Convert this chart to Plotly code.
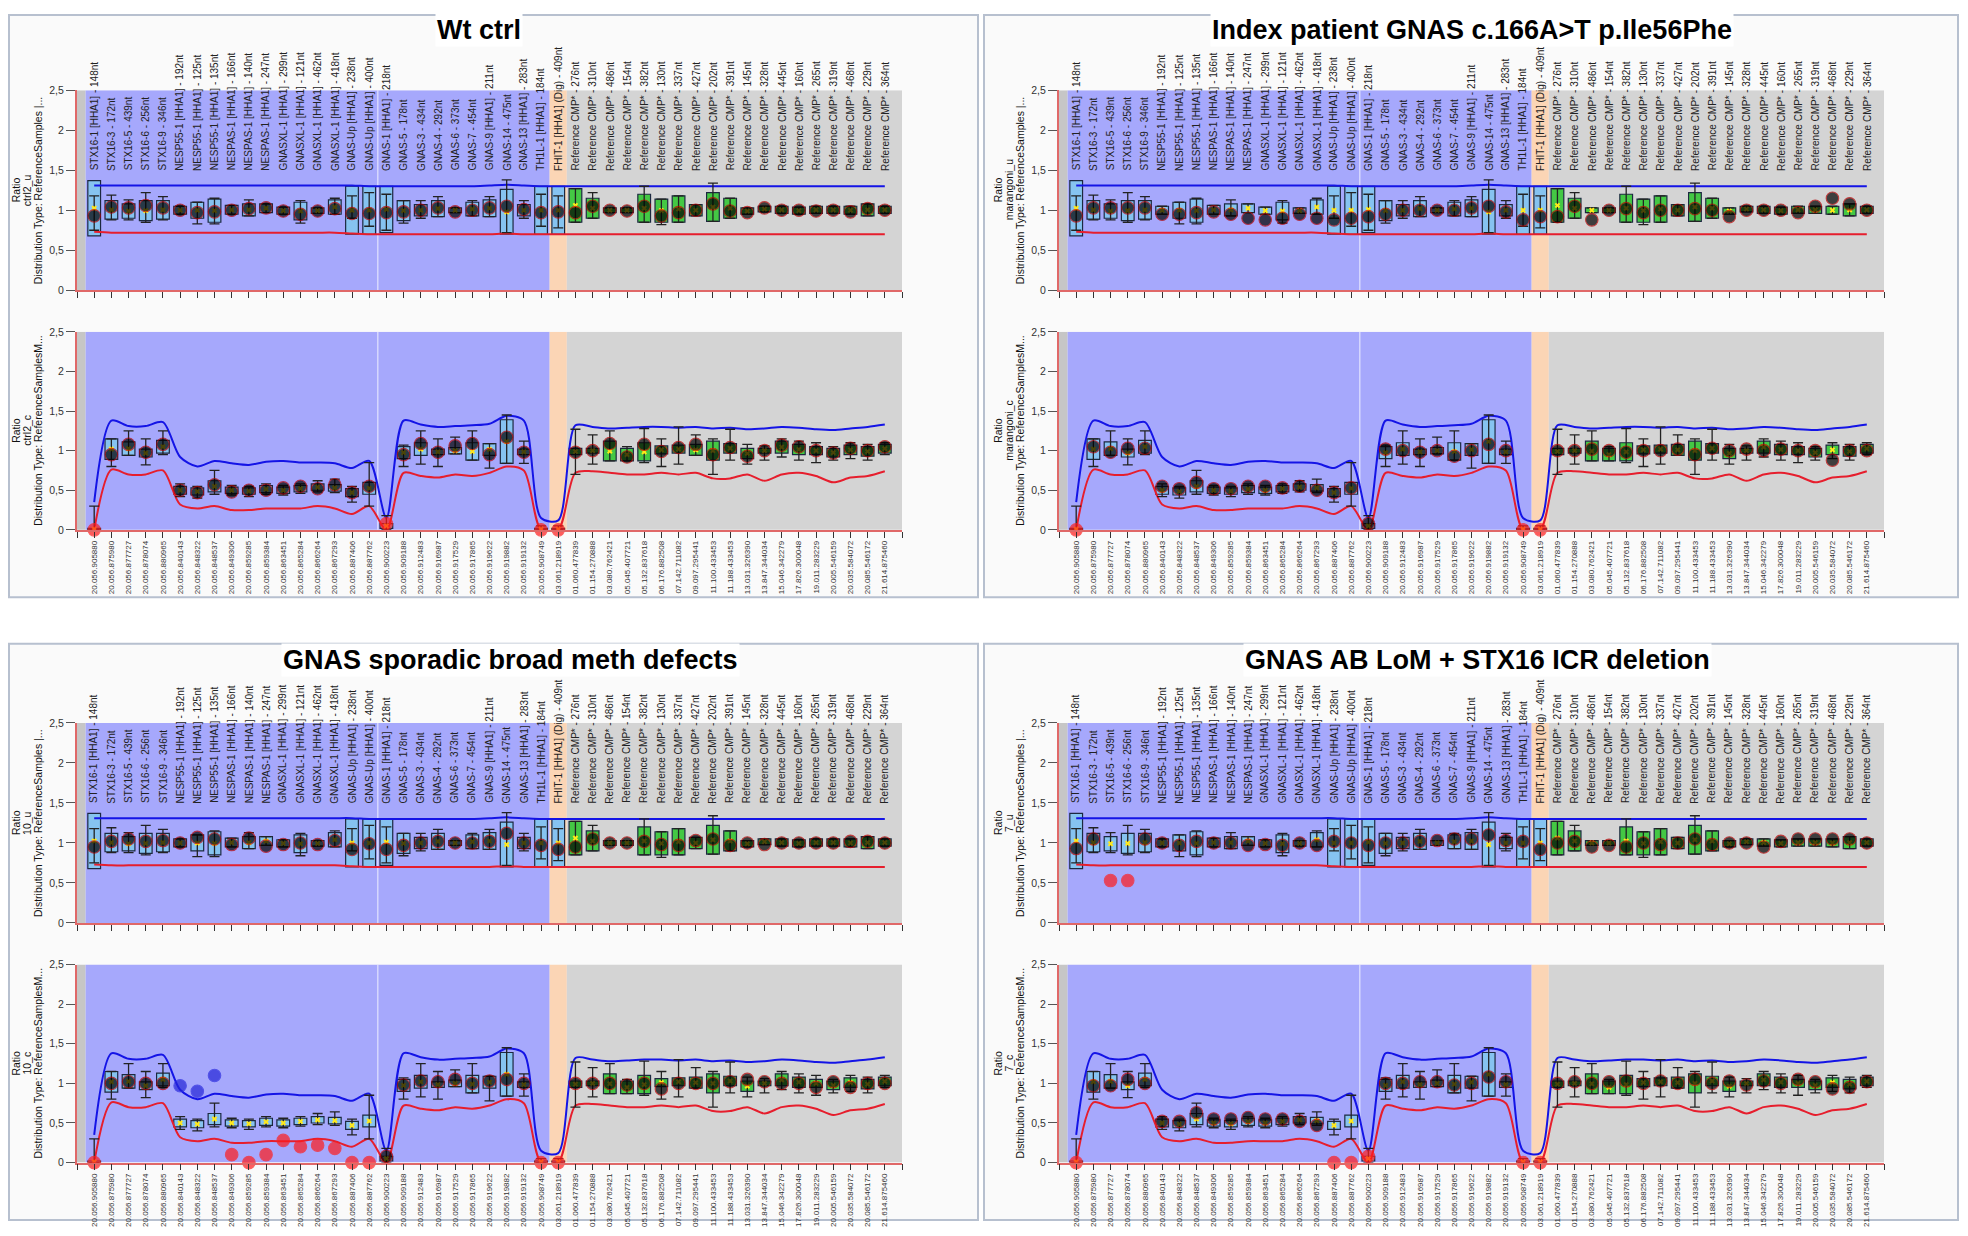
import plotly.graph_objects as go

# page size and the browser's default 8px body margin
PAGE_W, PAGE_H, OFF = 1968, 1236, 8
W, H = PAGE_W - 2 * OFF, PAGE_H - 2 * OFF

# ---------------- data ----------------
probes = [
    "STX16-1 [HHA1] - 148nt", "STX16-3 - 172nt", "STX16-5 - 439nt", "STX16-6 - 256nt", "STX16-9 - 346nt",
    "NESP55-1 [HHA1] - 192nt", "NESP55-1 [HHA1] - 125nt", "NESP55-1 [HHA1] - 135nt",
    "NESPAS-1 [HHA1] - 166nt", "NESPAS-1 [HHA1] - 140nt", "NESPAS-1 [HHA1] - 247nt",
    "GNASXL-1 [HHA1] - 299nt", "GNASXL-1 [HHA1] - 121nt", "GNASXL-1 [HHA1] - 462nt", "GNASXL-1 [HHA1] - 418nt",
    "GNAS-Up [HHA1] - 238nt", "GNAS-Up [HHA1] - 400nt", "GNAS-1 [HHA1] - 218nt",
    "GNAS-5 - 178nt", "GNAS-3 - 434nt", "GNAS-4 - 292nt", "GNAS-6 - 373nt", "GNAS-7 - 454nt",
    "GNAS-9 [HHA1] - 211nt", "GNAS-14 - 475nt", "GNAS-13 [HHA1] - 283nt", "TH1L-1 [HHA1] - 184nt",
    "FHIT-1 [HHA1] (Dig) - 409nt",
    "Reference CMP* - 276nt", "Reference CMP* - 310nt", "Reference CMP* - 486nt", "Reference CMP* - 154nt",
    "Reference CMP* - 382nt", "Reference CMP* - 130nt", "Reference CMP* - 337nt", "Reference CMP* - 427nt",
    "Reference CMP* - 202nt", "Reference CMP* - 391nt", "Reference CMP* - 145nt", "Reference CMP* - 328nt",
    "Reference CMP* - 445nt", "Reference CMP* - 160nt", "Reference CMP* - 265nt", "Reference CMP* - 319nt",
    "Reference CMP* - 468nt", "Reference CMP* - 229nt", "Reference CMP* - 364nt",
]
positions = [
    "20.056.905880", "20.056.875980", "20.056.877727", "20.056.878074", "20.056.880965",
    "20.056.840143", "20.056.848322", "20.056.848537", "20.056.849306", "20.056.859285",
    "20.056.859384", "20.056.863451", "20.056.865284", "20.056.866264", "20.056.867293",
    "20.056.887406", "20.056.887762", "20.056.900223", "20.056.909188", "20.056.912483",
    "20.056.916987", "20.056.917529", "20.056.917865", "20.056.919622", "20.056.919882",
    "20.056.919132", "20.056.908749", "03.061.218919",
    "01.060.477839", "01.154.270888", "03.080.762421", "05.045.407721", "05.132.837618",
    "06.176.882508", "07.142.711082", "09.097.295441", "11.100.433453", "11.188.433453",
    "13.031.326390", "13.847.344034", "15.046.342279", "17.826.300048", "19.011.283229",
    "20.005.546159", "20.035.584072", "20.085.546172", "21.614.875460",
]
panel_titles = ["Wt ctrl", "Index patient GNAS c.166A>T p.Ile56Phe",
                "GNAS sporadic broad meth defects", "GNAS AB LoM + STX16 ICR deletion"]
sample_names = ["ctrl2", "marangoni", "10", "7"]

# reference-sample thresholds (upper = blue, lower = red)
u_hi = [1.31, 1.31, 1.31, 1.31, 1.31, 1.31, 1.31, 1.31, 1.31, 1.31, 1.31, 1.31, 1.31, 1.31, 1.31, 1.31,
        1.30, 1.30, 1.30, 1.30, 1.30, 1.30, 1.30, 1.31, 1.32, 1.31, 1.30, 1.30, 1.30, 1.30, 1.30, 1.30,
        1.30, 1.30, 1.30, 1.30, 1.30, 1.30, 1.30, 1.30, 1.30, 1.30, 1.30, 1.30, 1.30, 1.30, 1.30]
u_lo = [0.73, 0.72, 0.72, 0.72, 0.72, 0.72, 0.72, 0.72, 0.72, 0.72, 0.72, 0.72, 0.72, 0.72, 0.72, 0.71,
        0.70, 0.70, 0.70, 0.70, 0.70, 0.70, 0.70, 0.70, 0.71, 0.70, 0.70, 0.70, 0.70, 0.70, 0.70, 0.70,
        0.70, 0.70, 0.70, 0.70, 0.70, 0.70, 0.70, 0.70, 0.70, 0.70, 0.70, 0.70, 0.70, 0.70, 0.70]
c_hi = [0.35, 1.38, 1.31, 1.31, 1.36, 0.92, 0.80, 0.87, 0.84, 0.82, 0.86, 0.87, 0.85, 0.85, 0.84, 0.78,
        0.87, 0.15, 1.38, 1.33, 1.30, 1.31, 1.32, 1.34, 1.44, 1.38, 0.15, 0.12, 1.32, 1.30, 1.28, 1.29,
        1.30, 1.30, 1.29, 1.30, 1.28, 1.29, 1.27, 1.28, 1.30, 1.29, 1.27, 1.26, 1.28, 1.30, 1.33]
c_lo = [0.00, 0.76, 0.70, 0.70, 0.75, 0.32, 0.27, 0.30, 0.25, 0.25, 0.27, 0.27, 0.27, 0.30, 0.27, 0.20,
        0.30, 0.00, 0.72, 0.68, 0.66, 0.70, 0.68, 0.72, 0.80, 0.75, 0.00, 0.00, 0.72, 0.74, 0.72, 0.70,
        0.70, 0.72, 0.70, 0.72, 0.65, 0.65, 0.70, 0.62, 0.70, 0.72, 0.68, 0.60, 0.66, 0.68, 0.74]

# reference-sample boxes (q1, q3) and whiskers
u_q1 = [0.68, 0.89, 0.90, 0.87, 0.89, 0.95, 0.90, 0.85, 0.95, 0.93, 0.97, 0.95, 0.88, 0.96, 0.95, 0.70,
        0.70, 0.72, 0.87, 0.93, 0.92, 0.97, 0.93, 0.92, 0.70, 0.93, 0.70, 0.70, 0.85, 0.90, 0.97, 0.97,
        0.85, 0.85, 0.85, 0.93, 0.86, 0.90, 0.95, 0.98, 0.96, 0.95, 0.96, 0.96, 0.95, 0.93, 0.96]
u_q3 = [1.37, 1.12, 1.08, 1.12, 1.12, 1.05, 1.10, 1.14, 1.06, 1.08, 1.08, 1.04, 1.10, 1.03, 1.13, 1.30,
        1.30, 1.30, 1.12, 1.07, 1.12, 1.03, 1.10, 1.13, 1.26, 1.07, 1.30, 1.30, 1.27, 1.15, 1.03, 1.03,
        1.20, 1.14, 1.18, 1.07, 1.22, 1.15, 1.03, 1.05, 1.05, 1.04, 1.05, 1.05, 1.05, 1.08, 1.05]
u_wlo = [0.75, 0.88, 0.88, 0.85, 0.88, 0.95, 0.83, 0.83, 0.95, 0.93, 0.97, 0.95, 0.84, 0.96, 0.95, 0.90,
         0.80, 0.75, 0.84, 0.90, 0.92, 0.97, 0.93, 0.92, 0.72, 0.90, 0.80, 0.78, 0.85, 0.90, 0.97, 0.97,
         0.85, 0.82, 0.85, 0.93, 0.86, 0.90, 0.95, 0.98, 0.96, 0.95, 0.96, 0.96, 0.95, 0.93, 0.96]
u_whi = [1.18, 1.19, 1.13, 1.22, 1.17, 1.05, 1.10, 1.15, 1.06, 1.13, 1.08, 1.04, 1.12, 1.03, 1.15, 1.18,
         1.22, 1.20, 1.12, 1.12, 1.17, 1.03, 1.12, 1.17, 1.38, 1.12, 1.20, 1.18, 1.27, 1.22, 1.03, 1.03,
         1.30, 1.14, 1.18, 1.07, 1.34, 1.15, 1.03, 1.05, 1.05, 1.04, 1.05, 1.05, 1.05, 1.08, 1.05]
c_q1 = [0.00, 0.89, 0.94, 0.92, 0.97, 0.45, 0.44, 0.48, 0.46, 0.45, 0.47, 0.46, 0.48, 0.50, 0.49, 0.42,
        0.45, 0.02, 0.90, 0.94, 0.95, 0.96, 0.88, 0.94, 0.84, 0.95, 0.00, 0.00, 0.95, 0.97, 0.87, 0.87,
        0.87, 0.96, 0.97, 0.94, 0.88, 0.97, 0.90, 0.97, 0.97, 0.95, 0.95, 0.92, 0.95, 0.93, 0.97]
c_q3 = [0.02, 1.15, 1.11, 1.02, 1.13, 0.55, 0.53, 0.62, 0.54, 0.53, 0.56, 0.54, 0.56, 0.58, 0.57, 0.52,
        0.60, 0.08, 1.05, 1.10, 1.02, 1.04, 1.10, 1.09, 1.39, 1.02, 0.02, 0.02, 1.03, 1.03, 1.12, 1.03,
        1.10, 1.06, 1.07, 1.08, 1.12, 1.09, 1.03, 1.03, 1.12, 1.08, 1.05, 1.03, 1.07, 1.05, 1.08]
c_wlo = [0.00, 0.80, 0.94, 0.82, 0.95, 0.42, 0.40, 0.45, 0.44, 0.42, 0.45, 0.44, 0.46, 0.48, 0.47, 0.35,
         0.30, 0.00, 0.80, 0.83, 0.80, 0.96, 0.88, 0.78, 0.84, 0.84, 0.00, 0.00, 0.70, 0.83, 0.87, 0.87,
         0.85, 0.80, 0.83, 0.94, 0.70, 0.88, 0.83, 0.88, 0.92, 0.88, 0.85, 0.88, 0.90, 0.88, 0.95]
c_whi = [0.30, 1.15, 1.25, 1.15, 1.25, 0.58, 0.55, 0.75, 0.56, 0.55, 0.58, 0.56, 0.58, 0.62, 0.64, 0.55,
         0.85, 0.18, 1.07, 1.25, 1.15, 1.17, 1.25, 1.09, 1.45, 1.12, 0.05, 0.05, 1.27, 1.20, 1.25, 1.05,
         1.28, 1.15, 1.30, 1.20, 1.15, 1.27, 1.08, 1.06, 1.15, 1.12, 1.10, 1.05, 1.10, 1.08, 1.10]

# sample ratios per panel
wt_u = [0.93, 1.04, 1.03, 1.06, 1.03, 1.00, 0.97, 0.98, 1.00, 1.02, 1.03, 0.99, 0.95, 0.99, 1.02, 0.96,
        0.96, 0.97, 0.98, 1.00, 1.03, 0.98, 1.00, 1.03, 1.05, 1.01, 0.97, 0.98, 0.97, 1.05, 1.00, 0.99,
        1.05, 0.93, 0.97, 1.00, 1.08, 0.99, 0.97, 1.03, 1.00, 1.00, 0.99, 1.00, 0.98, 1.02, 1.00]
wt_c = [0.00, 0.95, 1.08, 0.98, 1.08, 0.50, 0.47, 0.57, 0.48, 0.50, 0.50, 0.53, 0.55, 0.52, 0.57, 0.47,
        0.55, 0.08, 0.95, 1.09, 0.98, 1.06, 1.09, 0.95, 1.17, 0.98, 0.00, 0.00, 0.98, 1.00, 1.09, 0.92,
        1.08, 0.99, 1.04, 1.08, 0.95, 1.04, 0.93, 1.00, 1.07, 1.05, 1.00, 0.97, 1.03, 1.00, 1.05]
idx_u = [0.93, 1.03, 1.03, 1.03, 1.03, 0.95, 0.95, 0.97, 0.98, 0.95, 0.90, 0.88, 0.90, 0.95, 0.90, 0.88,
         0.90, 0.92, 0.95, 1.00, 1.00, 1.00, 1.00, 1.03, 1.05, 0.98, 0.88, 0.92, 0.92, 1.05, 0.88, 1.00,
         1.02, 0.97, 1.00, 1.00, 1.02, 1.00, 0.92, 1.00, 1.00, 1.00, 0.97, 1.05, 1.15, 1.08, 1.00]
idx_c = [0.00, 1.05, 0.98, 1.03, 1.03, 0.55, 0.52, 0.60, 0.52, 0.52, 0.55, 0.55, 0.53, 0.55, 0.50, 0.47,
         0.53, 0.08, 1.02, 1.00, 0.98, 1.00, 0.93, 1.00, 1.08, 1.00, 0.00, 0.00, 1.00, 1.00, 1.02, 1.00,
         0.98, 1.00, 1.00, 1.02, 0.95, 1.03, 1.00, 1.02, 1.00, 1.02, 1.00, 1.00, 0.88, 1.00, 1.00]
spo_u = [0.95, 1.02, 1.05, 1.02, 1.03, 1.00, 1.07, 1.05, 0.98, 1.06, 0.96, 0.98, 1.00, 0.98, 1.03, 0.92,
         0.99, 0.92, 0.97, 1.00, 1.02, 1.00, 1.00, 1.02, 1.12, 1.00, 0.97, 0.92, 0.95, 1.05, 1.00, 1.00,
         1.02, 0.98, 0.97, 1.03, 1.05, 0.97, 1.00, 0.98, 1.00, 1.00, 1.00, 1.00, 1.02, 1.02, 1.00]
spo_c = [0.00, 1.00, 1.02, 1.00, 1.00, 0.97, 0.90, 1.10, 0.10, 0.00, 0.10, 0.28, 0.20, 0.22, 0.18, 0.00,
         0.00, 0.08, 0.98, 1.03, 1.02, 1.05, 1.00, 1.03, 1.05, 1.00, 0.00, 0.00, 1.00, 1.00, 1.00, 0.98,
         1.00, 0.93, 1.00, 1.00, 1.00, 1.02, 1.05, 1.02, 1.00, 1.00, 0.95, 1.02, 0.95, 1.00, 1.00]
ab_u = [0.93, 1.05, 0.53, 0.53, 1.05, 1.00, 0.97, 1.02, 1.00, 1.00, 0.97, 0.98, 0.97, 1.00, 0.97, 1.02,
        1.00, 0.97, 1.00, 1.00, 1.02, 1.03, 1.05, 1.05, 1.10, 1.03, 1.02, 0.92, 1.00, 1.02, 0.95, 0.97,
        0.95, 1.00, 0.98, 1.00, 1.05, 0.98, 1.00, 1.00, 0.95, 1.02, 1.05, 1.05, 1.05, 1.05, 1.00]
ab_c = [0.00, 0.97, 0.97, 1.05, 1.00, 0.52, 0.52, 0.63, 0.55, 0.55, 0.57, 0.55, 0.55, 0.52, 0.47, 0.00,
        0.00, 0.08, 1.00, 1.00, 1.02, 1.02, 0.98, 1.00, 1.08, 1.02, 0.00, 0.00, 1.00, 1.02, 1.00, 1.02,
        1.03, 1.00, 1.03, 1.00, 1.05, 1.00, 1.03, 0.98, 1.03, 1.00, 1.05, 1.02, 0.93, 0.95, 1.02]

# probes flagged as decreased (red) or increased (blue), 1-based
wt_u_red, wt_c_red = [], [1, 18, 27, 28]
idx_u_red, idx_c_red = [], [1, 27, 28]
spo_u_red, spo_c_red = [], [1, 9, 10, 11, 12, 13, 14, 15, 16, 17, 27, 28]
spo_c_blue = [6, 7, 8]
ab_u_red, ab_c_red = [3, 4], [1, 16, 17, 18, 27, 28]

panels = [
    dict(u=wt_u, c=wt_c, u_red=wt_u_red, c_red=wt_c_red, c_blue=[]),
    dict(u=idx_u, c=idx_c, u_red=idx_u_red, c_red=idx_c_red, c_blue=[]),
    dict(u=spo_u, c=spo_c, u_red=spo_u_red, c_red=spo_c_red, c_blue=spo_c_blue),
    dict(u=ab_u, c=ab_c, u_red=ab_u_red, c_red=ab_c_red, c_blue=[]),
]

# ---------------- styling / geometry (page pixels) ----------------
N = len(probes)
xs = list(range(1, N + 1))
n_gnas = 27          # probes in the blue (target) region
FONT = "Liberation Sans, Arial, sans-serif"
BLUE_BG, ORANGE_BG, GRAY_BG, STRIP = "#a6a8fc", "#fbd5b5", "#d4d4d4", "#c6c6c6"
BOX_BLUE, BOX_GREEN = "#86c3f0", "#44c844"

panel_dx = [0, 982, 0, 982]
panel_dy = [0, 0, 639, 639]
frames = [(9, 9, 978, 597), (984, 9, 1958, 597), (9, 644, 978, 1226), (984, 644, 1958, 1226)]
title_x = [479, 1472, 510, 1477]
title_y = [24, 24, 660, 660]
ytitle_x = [16, 27, 38]   # centres of the three stacked y-title lines


def px(v):
    return (v - OFF) / W


def py(v):
    return 1 - (v - OFF) / H


fig = go.Figure()
layout = dict(width=W, height=H, margin=dict(l=0, r=0, t=0, b=0), paper_bgcolor="white",
              plot_bgcolor="rgba(0,0,0,0)", showlegend=False, barmode="overlay",
              font=dict(family=FONT, color="#222"))
shapes, annotations = [], []

for p in range(4):
    dx, dy = panel_dx[p], panel_dy[p]
    x0, y0, x1, y1 = frames[p]
    shapes.append(dict(type="rect", xref="paper", yref="paper", x0=px(x0), x1=px(x1), y0=py(y1), y1=py(y0),
                       fillcolor="#fafafa", line=dict(color="#b7c0cf", width=2), layer="below"))
    annotations.append(dict(text="<b>%s</b>" % panel_titles[p], xref="paper", yref="paper",
                            x=px(title_x[p]), y=py(title_y[p]), xanchor="center", yanchor="middle",
                            showarrow=False, bgcolor="white", font=dict(size=27, color="black", family=FONT)))
    for s in range(2):
        k = p * 2 + s + 1
        xa = "x" if k == 1 else "x%d" % k
        ya = "y" if k == 1 else "y%d" % k
        top = (85 if s == 0 else 329) + dy
        bot = (287 if s == 0 else 529) + dy
        ratios = panels[p]["u" if s == 0 else "c"]
        red = panels[p]["u_red" if s == 0 else "c_red"]
        blue = [] if s == 0 else panels[p]["c_blue"]
        hi, lo = (u_hi, u_lo) if s == 0 else (c_hi, c_lo)
        q1, q3, wl, wh = (u_q1, u_q3, u_wlo, u_whi) if s == 0 else (c_q1, c_q3, c_wlo, c_whi)
        sfx = "_u" if s == 0 else "_c"

        layout["xaxis" if k == 1 else "xaxis%d" % k] = dict(
            domain=[px(77 + dx), px(902 + dx)], anchor=ya, range=[0, N + 1], showgrid=False, zeroline=False,
            showline=True, linecolor="#e06868", linewidth=1.5, ticks="outside", ticklen=6, tickwidth=1.2,
            tickcolor="#333", tickvals=list(range(0, N + 2)),
            ticktext=[""] + positions + [""], showticklabels=(s == 1), tickangle=-90,
            tickfont=dict(size=8, color="#333", family=FONT), fixedrange=True)
        layout["yaxis" if k == 1 else "yaxis%d" % k] = dict(
            domain=[py(bot), py(top)], anchor=xa, range=[0, 2.5], showgrid=False, zeroline=False,
            showline=True, linecolor="#e06868", linewidth=2, ticks="outside", ticklen=9, tickwidth=1.2,
            tickcolor="#555", tickvals=[0, 0.5, 1, 1.5, 2, 2.5], ticktext=["0", "0,5", "1", "1,5", "2", "2,5"],
            tickfont=dict(size=10.5, color="#333", family=FONT), fixedrange=True)

        # background regions
        for (a, b, col) in [(0, 0.5, STRIP), (0.5, n_gnas + 0.5, BLUE_BG),
                            (n_gnas + 0.5, n_gnas + 1.5, ORANGE_BG), (n_gnas + 1.5, N + 1, GRAY_BG)]:
            shapes.append(dict(type="rect", xref=xa, yref=ya, x0=a, x1=b, y0=0, y1=2.5, fillcolor=col,
                               line=dict(width=0), layer="below"))
        shapes.append(dict(type="line", xref=xa, yref=ya, x0=17.5, x1=17.5, y0=0, y1=2.5,
                           line=dict(color="rgba(255,255,255,0.55)", width=1.5), layer="below"))

        # threshold lines
        fig.add_trace(go.Scatter(x=xs, y=hi, mode="lines", line=dict(color="#1414e6", width=2, shape="spline",
                                                                       smoothing=0.8), xaxis=xa, yaxis=ya, hoverinfo="skip"))
        fig.add_trace(go.Scatter(x=xs, y=lo, mode="lines", line=dict(color="#e61e2d", width=2, shape="spline",
                                                                       smoothing=0.8), xaxis=xa, yaxis=ya, hoverinfo="skip"))
        # reference boxes
        fig.add_trace(go.Bar(x=xs, y=[b - a for a, b in zip(q1, q3)], base=q1, width=0.74,
                             marker=dict(color=[BOX_BLUE if i <= n_gnas + 1 else BOX_GREEN for i in xs],
                                         line=dict(color="#1c2840", width=1.2)),
                             xaxis=xa, yaxis=ya, hoverinfo="skip"))
        mid = [(a + b) / 2 for a, b in zip(wl, wh)]
        fig.add_trace(go.Scatter(x=xs, y=mid, mode="markers", marker=dict(size=1, color="rgba(0,0,0,0)"),
                                 error_y=dict(type="data", symmetric=False, array=[b - m for b, m in zip(wh, mid)],
                                              arrayminus=[m - a for a, m in zip(wl, mid)], color="#222",
                                              thickness=1.3, width=5),
                                 xaxis=xa, yaxis=ya, hoverinfo="skip"))
        fig.add_trace(go.Scatter(x=xs, y=[(a + b) / 2 for a, b in zip(q1, q3)], mode="markers",
                                 marker=dict(symbol="x", size=5, color="#ffe81a", line=dict(width=0)),
                                 xaxis=xa, yaxis=ya, hoverinfo="skip"))
        # sample ratios
        fills, edges, sizes = [], [], []
        for i in xs:
            if i in red:
                fills.append("#ff1a1a"); edges.append("#ff2020"); sizes.append(12.5)
            elif i in blue:
                fills.append("#2424d8"); edges.append("#3030e0"); sizes.append(12.5)
            else:
                fills.append("#000000"); edges.append("#b80000"); sizes.append(12.5)
        fig.add_trace(go.Scatter(x=xs, y=ratios, mode="markers",
                                 marker=dict(size=sizes, color=fills, line=dict(color=edges, width=1.1)),
                                 cliponaxis=False, xaxis=xa, yaxis=ya, hoverinfo="skip"))

        # y-axis title: three stacked rotated lines
        tail = "ReferenceSamples |..." if s == 0 else "ReferenceSamplesM..."
        lines = ["Ratio", sample_names[p] + sfx, "Distribution Type: " + tail]
        for lx, txt in zip(ytitle_x, lines):
            annotations.append(dict(text=txt, xref="paper", yref="paper", x=px(lx + dx), y=py((top + bot) / 2),
                                    xanchor="center", yanchor="middle", textangle=-90, showarrow=False,
                                    font=dict(size=10.5, color="#111", family=FONT)))
        # probe names above the upper plot
        if s == 0:
            for i, name in zip(xs, probes):
                annotations.append(dict(text=name, xref=xa, yref=ya, x=i, y=1.47, xanchor="center",
                                        yanchor="bottom", textangle=-90, showarrow=False,
                                        font=dict(size=10, color="#222", family=FONT)))

layout["shapes"] = shapes
layout["annotations"] = annotations
fig.update_layout(**layout)
fig.write_html("out.html")
